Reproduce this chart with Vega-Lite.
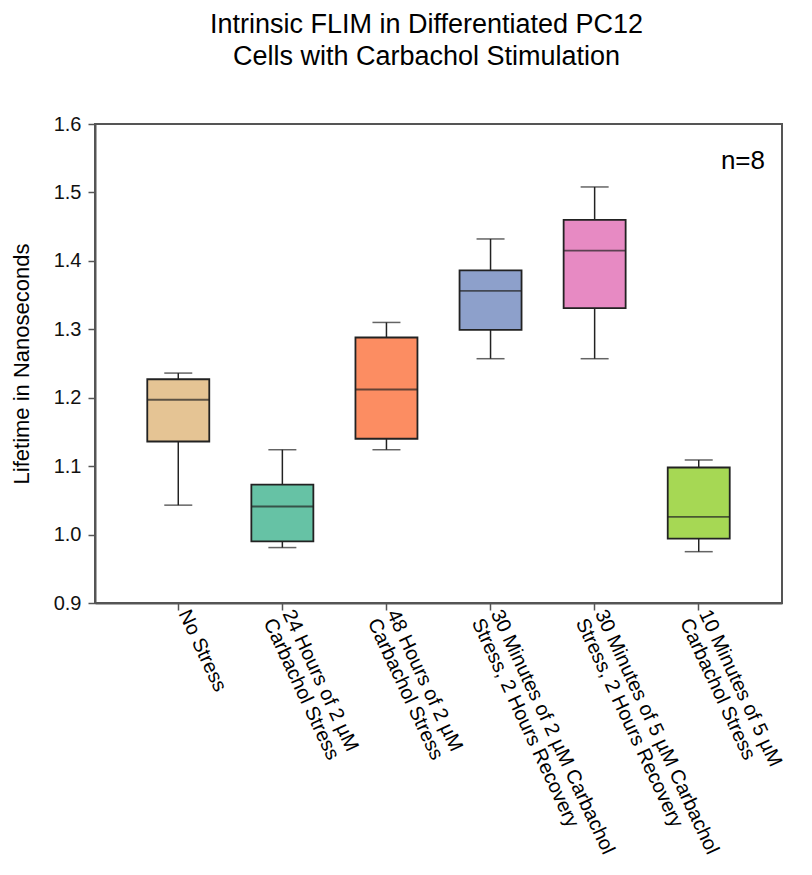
{
  "$schema": "https://vega.github.io/schema/vega-lite/v6.json",
  "autosize": "none",
  "padding": {"left": 95, "top": 124, "right": 30, "bottom": 272},
  "width": 687,
  "height": 479,
  "background": "white",
  "title": {
    "text": ["Intrinsic FLIM in Differentiated PC12", "Cells with Carbachol Stimulation"],
    "font": "Liberation Sans",
    "fontSize": 27,
    "fontWeight": "normal",
    "color": "black",
    "lineHeight": 32,
    "anchor": "middle",
    "dx": -12,
    "offset": 43
  },
  "config": {
    "view": {"stroke": "#555555", "strokeWidth": 2},
    "font": "Liberation Sans"
  },
  "datasets": {
    "boxes": [
      {"group": "No Stress", "lower": 1.043, "q1": 1.136, "median": 1.197, "q3": 1.227, "upper": 1.236},
      {"group": "24 Hours of 2 µM|Carbachol Stress", "lower": 0.981, "q1": 0.990, "median": 1.041, "q3": 1.073, "upper": 1.124},
      {"group": "48 Hours of 2 µM|Carbachol Stress", "lower": 1.124, "q1": 1.140, "median": 1.212, "q3": 1.288, "upper": 1.310},
      {"group": "30 Minutes of 2 µM Carbachol|Stress, 2 Hours Recovery", "lower": 1.257, "q1": 1.299, "median": 1.356, "q3": 1.386, "upper": 1.432},
      {"group": "30 Minutes of 5 µM Carbachol|Stress, 2 Hours Recovery", "lower": 1.257, "q1": 1.331, "median": 1.415, "q3": 1.460, "upper": 1.508},
      {"group": "10 Minutes of 5 µM|Carbachol Stress", "lower": 0.975, "q1": 0.994, "median": 1.026, "q3": 1.098, "upper": 1.109}
    ],
    "note": [{"label": "n=8", "y": 1.534}]
  },
  "layer": [
    {
      "data": {"name": "boxes"},
      "encoding": {
        "x": {
          "field": "group",
          "type": "nominal",
          "sort": null,
          "scale": {"type": "band", "paddingInner": 0, "paddingOuter": 0.3},
          "axis": {
            "title": null,
            "labelExpr": "split(datum.label, '|')",
            "labelAngle": 65,
            "labelAlign": "left",
            "labelBaseline": "alphabetic",
            "labelFont": "Liberation Sans",
            "labelFontSize": 20,
            "labelColor": "black",
            "labelPadding": 3,
            "labelLineHeight": 21,
            "labelLimit": 400,
            "tickSize": 7,
            "tickColor": "#555555",
            "tickWidth": 1.5,
            "domainColor": "#555555",
            "domainWidth": 2,
            "grid": false
          }
        }
      },
      "layer": [
        {
          "mark": {"type": "rule", "color": "#222222", "strokeWidth": 1.5},
          "encoding": {
            "y": {
              "field": "lower",
              "type": "quantitative",
              "scale": {"domain": [0.9, 1.6], "nice": false, "zero": false},
              "axis": {
                "title": "Lifetime in Nanoseconds",
                "titleFont": "Liberation Sans",
                "titleFontSize": 22,
                "titleFontWeight": "normal",
                "titleColor": "black",
                "titlePadding": 20,
                "values": [0.9, 1.0, 1.1, 1.2, 1.3, 1.4, 1.5, 1.6],
                "format": ".1f",
                "labelFont": "Liberation Sans",
                "labelFontSize": 20,
                "labelColor": "#111111",
                "labelPadding": 7,
                "tickSize": 7,
                "tickColor": "#555555",
                "tickWidth": 1.5,
                "domainColor": "#555555",
                "domainWidth": 2,
                "grid": false
              }
            },
            "y2": {"field": "upper"}
          }
        },
        {
          "mark": {"type": "tick", "color": "#222222", "size": 28, "thickness": 1.5, "orient": "horizontal"},
          "encoding": {"y": {"field": "lower", "type": "quantitative"}}
        },
        {
          "mark": {"type": "tick", "color": "#222222", "size": 28, "thickness": 1.5, "orient": "horizontal"},
          "encoding": {"y": {"field": "upper", "type": "quantitative"}}
        },
        {
          "mark": {"type": "bar", "size": 62, "stroke": "#222222", "strokeWidth": 1.8},
          "encoding": {
            "y": {"field": "q1", "type": "quantitative"},
            "y2": {"field": "q3"},
            "color": {
              "field": "group",
              "type": "nominal",
              "sort": null,
              "scale": {"range": ["#E5C494", "#66C2A5", "#FC8D62", "#8DA0CB", "#E78AC3", "#A6D854"]},
              "legend": null
            }
          }
        },
        {
          "mark": {"type": "tick", "color": "#222222", "size": 62, "thickness": 1.8, "orient": "horizontal"},
          "encoding": {"y": {"field": "median", "type": "quantitative"}}
        }
      ]
    },
    {
      "data": {"name": "note"},
      "mark": {"type": "text", "align": "right", "baseline": "alphabetic", "fontSize": 26, "font": "Liberation Sans", "color": "black", "x": {"expr": "width - 17"}},
      "encoding": {
        "y": {"field": "y", "type": "quantitative"},
        "text": {"field": "label"}
      }
    }
  ]
}
